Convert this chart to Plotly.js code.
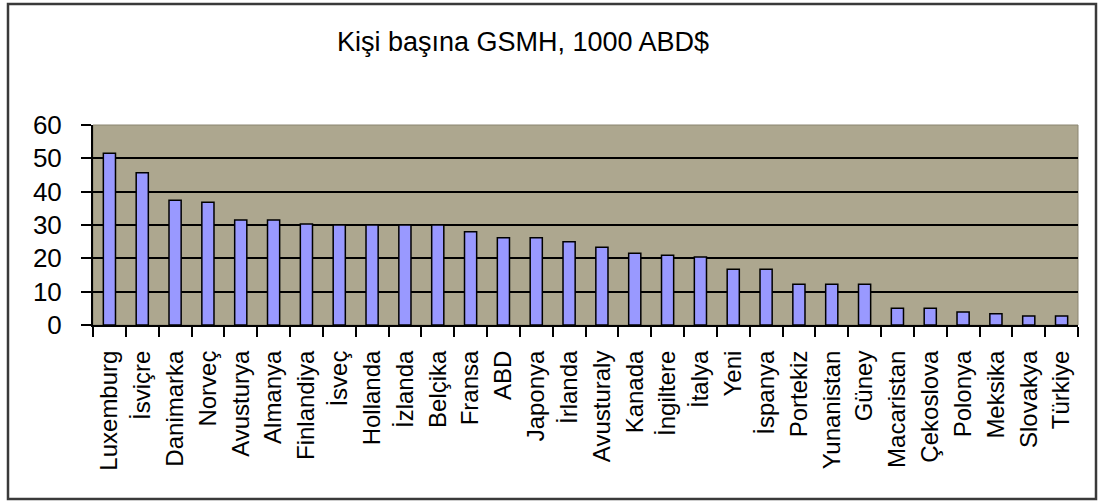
<!DOCTYPE html>
<html>
<head>
<meta charset="utf-8">
<script src="https://cdn.plot.ly/plotly-3.0.1.min.js"></script>
<style>
  html, body { margin: 0; padding: 0; background: #ffffff; }
  #chart { width: 1100px; height: 502px; }
</style>
</head>
<body>
<div id="chart"></div>
<script>
const countries = ["Luxemburg", "İsviçre", "Danimarka", "Norveç", "Avusturya", "Almanya", "Finlandiya", "İsveç", "Hollanda", "İzlanda", "Belçika", "Fransa", "ABD", "Japonya", "İrlanda", "Avusturaly", "Kanada", "İngiltere", "İtalya", "Yeni", "İspanya", "Portekiz", "Yunanistan", "Güney", "Macaristan", "Çekoslova", "Polonya", "Meksika", "Slovakya", "Türkiye"];
const gnpPerCapita = [51.5, 45.7, 37.4, 36.8, 31.5, 31.5, 30.3, 30, 30, 30, 30, 28.0, 26.2, 26.2, 25.0, 23.3, 21.5, 20.9, 20.4, 16.7, 16.7, 12.2, 12.2, 12.2, 5.0, 5.0, 3.9, 3.4, 2.7, 2.7];
const yTicks = [0, 10, 20, 30, 40, 50, 60];
const chartTitle = "Kişi başına GSMH, 1000 ABD$";

const W = 1100, H = 502;
const m = {l: 93, r: 22, t: 125, b: 177};
const pw = W - m.l - m.r, ph = H - m.t - m.b;
const px = v => (v - m.l) / pw;
const py = v => 1 - (v - m.t) / ph;

const trace = {
  type: "bar",
  x: countries,
  y: gnpPerCapita,
  marker: { color: "#9999ff", line: { color: "#000000", width: 1.5 } },
  hoverinfo: "x+y"
};

const layout = {
  width: W, height: H,
  margin: m,
  paper_bgcolor: "#ffffff",
  plot_bgcolor: "#ada78f",
  bargap: 0.63,
  showlegend: false,
  font: { family: "Liberation Sans, Arial, sans-serif", color: "#000000" },
  title: {
    text: chartTitle,
    font: { size: 27, color: "#000000", family: "Liberation Sans, Arial, sans-serif" },
    xref: "container", yref: "container",
    x: 523 / W, xanchor: "center",
    y: 1 - 42 / H, yanchor: "middle"
  },
  xaxis: {
    type: "category",
    tickangle: -90,
    tickson: "boundaries",
    ticks: "outside", ticklen: 10, tickwidth: 2, tickcolor: "#000000",
    showline: true, linecolor: "#000000", linewidth: 2,
    showgrid: false,
    tickfont: { size: 24, color: "#000000" },
    ticklabelstandoff: 14,
    fixedrange: true
  },
  yaxis: {
    range: [0, 60],
    tickvals: yTicks,
    ticktext: yTicks.map(String),
    ticks: "outside", ticklen: 10, tickwidth: 2, tickcolor: "#000000",
    showline: true, linecolor: "#000000", linewidth: 2,
    showgrid: true, gridcolor: "#000000", gridwidth: 2,
    zeroline: false,
    tickfont: { size: 26, color: "#000000" },
    ticklabelstandoff: 14,
    fixedrange: true
  },
  shapes: [
    { type: "rect", xref: "paper", yref: "paper",
      x0: px(8), x1: px(1096), y0: py(4), y1: py(499),
      line: { color: "#3a3a3a", width: 2.5 }, fillcolor: "rgba(0,0,0,0)", layer: "above" },
    { type: "rect", xref: "paper", yref: "paper",
      x0: 0, x1: 1, y0: 0, y1: 1,
      line: { color: "#8a8570", width: 1 }, fillcolor: "rgba(0,0,0,0)", layer: "below" }
  ]
};

Plotly.newPlot("chart", [trace], layout, { displayModeBar: false, staticPlot: true });
</script>
</body>
</html>
